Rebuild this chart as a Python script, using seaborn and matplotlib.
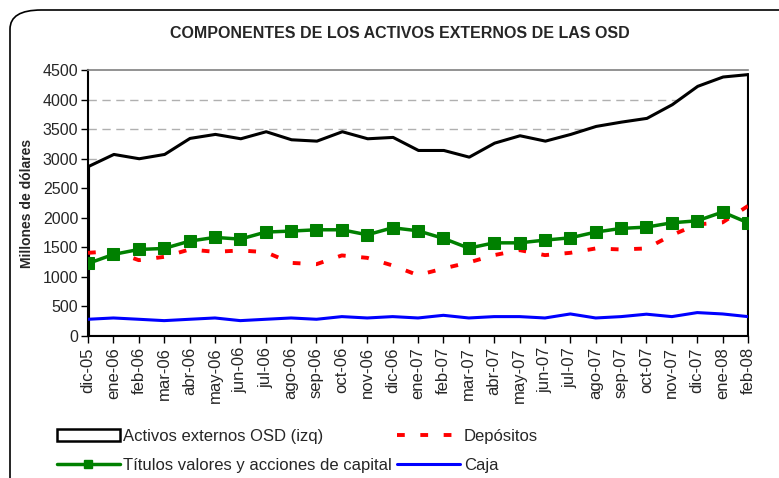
import matplotlib.pyplot as plt
import seaborn as sns
import pandas as pd
from matplotlib.patches import Patch, FancyBboxPatch
from matplotlib.lines import Line2D

meses = ["dic-05", "ene-06", "feb-06", "mar-06", "abr-06", "may-06", "jun-06",
         "jul-06", "ago-06", "sep-06", "oct-06", "nov-06", "dic-06", "ene-07",
         "feb-07", "mar-07", "abr-07", "may-07", "jun-07", "jul-07", "ago-07",
         "sep-07", "oct-07", "nov-07", "dic-07", "ene-08", "feb-08"]

activos = [2876, 3080, 3007, 3080, 3351, 3419, 3345, 3464, 3328, 3305, 3464,
           3345, 3368, 3147, 3147, 3034, 3271, 3396, 3305, 3419, 3554, 3627,
           3690, 3922, 4232, 4390, 4431]
depositos = [1407, 1436, 1283, 1339, 1464, 1424, 1447, 1419, 1237, 1215, 1363,
             1322, 1193, 1029, 1142, 1244, 1368, 1453, 1368, 1407, 1481, 1464,
             1481, 1707, 1888, 1922, 2200]
titulos = [1227, 1380, 1464, 1481, 1605, 1668, 1639, 1758, 1775, 1797, 1797,
           1712, 1831, 1780, 1651, 1486, 1576, 1576, 1622, 1661, 1758, 1820,
           1842, 1915, 1949, 2097, 1915]
caja = [283, 305, 283, 260, 283, 305, 260, 283, 305, 283, 328, 305, 328, 305,
        350, 305, 328, 328, 305, 373, 305, 328, 369, 328, 396, 373, 328]

df = pd.DataFrame({"pos": range(len(meses)), "mes": meses, "activos": activos,
                   "depositos": depositos, "titulos": titulos, "caja": caja})

sns.set_theme(style="white")
plt.rcParams['font.family'] = ['Liberation Sans', 'DejaVu Sans']

fig = plt.figure(figsize=(7.79, 4.78), dpi=100)
ax = fig.add_axes([88 / 779, 1 - 336 / 478, (748 - 88) / 779, (336 - 70) / 478])

# marco redondeado del gráfico
frame = FancyBboxPatch((10 / 779, -0.05), 1.2, 1.2 - 10 / 478 - 0.15,
                       boxstyle="round,pad=0,rounding_size=0.04",
                       transform=fig.transFigure, fill=False,
                       edgecolor="black", lw=1.2, zorder=-1)
fig.patches.append(frame)

for v in range(500, 4500, 500):
    ax.axhline(v, color="#b0b0b0", lw=1, ls=(0, (6, 4)), zorder=0)

ax.fill_between(df["pos"], df["activos"], facecolor="white",
                edgecolor="black", lw=2.2, zorder=1)
ax.plot([0, 0], [0, activos[0]], color="black", lw=2.2, zorder=1)
ax.plot([26, 26], [0, activos[-1]], color="black", lw=2.2, zorder=1)

sns.lineplot(data=df, x="pos", y="depositos", ax=ax, color="#ff0000", lw=2.8,
             zorder=3)
ax.lines[-1].set_dashes((2, 4))
sns.lineplot(data=df, x="pos", y="titulos", ax=ax, color="#008000", lw=2.5,
             marker="s", markersize=8, markeredgecolor="#008000", zorder=4)
sns.lineplot(data=df, x="pos", y="caja", ax=ax, color="#0000ff", lw=2.2,
             zorder=3)

ax.set_xlim(0, 26)
ax.set_ylim(0, 4500)
ax.set_yticks(range(0, 4501, 500))
ax.set_xticks(df["pos"])
ax.set_xticklabels(meses, rotation=90, fontsize=12)
ax.tick_params(axis="y", labelsize=11.5, length=5, direction="out", left=True,
               width=1, color="black", pad=2)
ax.tick_params(axis="x", length=5, direction="out", bottom=True, width=1,
               color="black", pad=3)
ax.set_xlabel("")
ax.set_ylabel("Millones de dólares", fontsize=10, fontweight="bold", labelpad=6)

ax.spines["left"].set_color("black")
ax.spines["left"].set_linewidth(1.5)
ax.spines["bottom"].set_color("black")
ax.spines["bottom"].set_linewidth(1.5)
ax.spines["top"].set_color("#808080")
ax.spines["top"].set_linewidth(1.2)
ax.spines["right"].set_visible(False)

fig.text(400 / 779, 1 - 33 / 478, "COMPONENTES DE LOS ACTIVOS EXTERNOS DE LAS OSD",
         ha="center", va="center", fontsize=11.5, fontweight="bold")

handles = [
    Patch(facecolor="white", edgecolor="black", lw=1.8),
    Line2D([], [], color="#008000", lw=2.5, marker="s", markersize=6),
    Line2D([], [], color="#ff0000", lw=2.8, dashes=(2, 4)),
    Line2D([], [], color="#0000ff", lw=2.2),
]
labels = ["Activos externos OSD (izq)", "Títulos valores y acciones de capital",
          "Depósitos", "Caja"]
fig.legend(handles, labels, ncol=2, loc="upper left",
           bbox_to_anchor=(50 / 779, 1 - 422 / 478), frameon=False,
           fontsize=12, handlelength=3.8, handletextpad=0.2,
           columnspacing=0.3, labelspacing=0.85, borderaxespad=0)

fig.savefig("out.png", dpi=100)
